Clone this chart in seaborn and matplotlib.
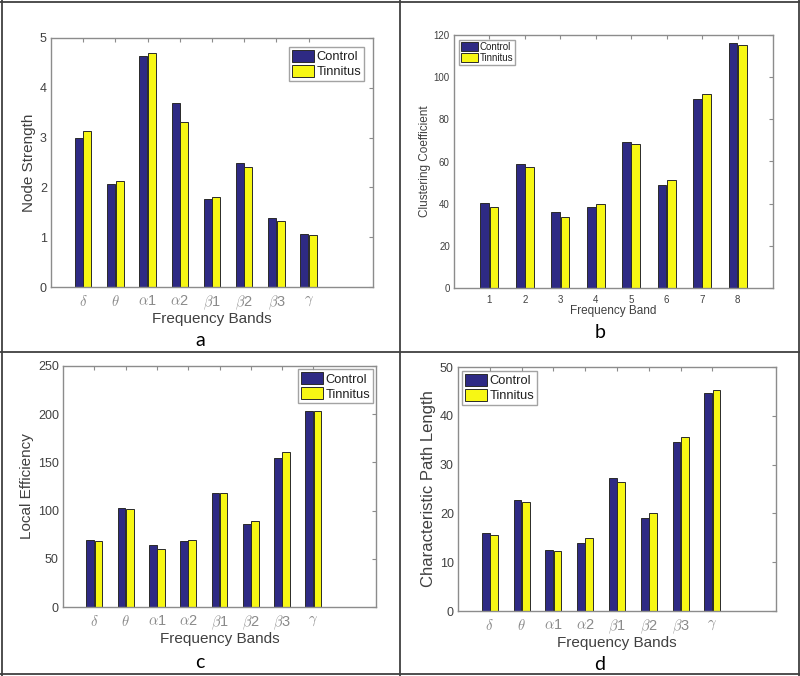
import matplotlib
matplotlib.use("Agg")
import matplotlib.pyplot as plt
import seaborn as sns
import pandas as pd
from matplotlib.lines import Line2D

# ---------------- data ----------------
bands_greek = [r"$\delta$", r"$\theta$", r"$\alpha$1", r"$\alpha$2",
               r"$\beta$1", r"$\beta$2", r"$\beta$3", r"$\gamma$"]
bands_num = ["1", "2", "3", "4", "5", "6", "7", "8"]
groups = ["Control", "Tinnitus"]

node_control = [3.00, 2.07, 4.64, 3.69, 1.77, 2.50, 1.38, 1.07]
node_tinnitus = [3.14, 2.12, 4.70, 3.32, 1.81, 2.40, 1.33, 1.05]

clust_control = [40.4, 58.9, 36.0, 38.4, 69.2, 48.8, 89.5, 116.4]
clust_tinnitus = [38.4, 57.6, 33.8, 39.8, 68.4, 51.2, 91.9, 115.4]

leff_control = [70.0, 103.1, 64.8, 68.3, 117.9, 85.9, 154.8, 203.0]
leff_tinnitus = [68.6, 101.7, 59.7, 70.0, 117.9, 89.7, 160.7, 203.0]

cpl_control = [16.0, 22.8, 12.5, 14.0, 27.3, 19.0, 34.7, 44.7]
cpl_tinnitus = [15.5, 22.4, 12.2, 14.9, 26.4, 20.0, 35.75, 45.3]

panel_letters = ["a", "b", "c", "d"]

# ---------------- style ----------------
sns.set_theme(style="white")
plt.rcParams["font.family"] = ["Liberation Sans", "DejaVu Sans"]
plt.rcParams["mathtext.fontset"] = "cm"

NAVY = "#2E2A84"
YELLOW = "#F7F714"
palette = {"Control": NAVY, "Tinnitus": YELLOW}
SPINE = "#8C8C8C"
TXT = "#404040"

W, H = 800, 676
fig = plt.figure(figsize=(W / 100, H / 100), dpi=100)


def ax_at(l, r, t, b):
    return fig.add_axes([l / W, 1 - b / H, (r - l) / W, (b - t) / H])


def make_df(keys, c, t):
    return pd.DataFrame({
        "band": keys * 2,
        "group": ["Control"] * len(keys) + ["Tinnitus"] * len(keys),
        "value": list(c) + list(t),
    })


def panel(ax, keys, labels, c, t, ylim, yticks, ylabel, xlabel,
          tickfs, labfs, ylabfs, legloc, legfs, greek=True, ylpad=1,
          xpad=6, legpad=0.6):
    df = make_df(keys, c, t)
    sns.barplot(data=df, x="band", y="value", hue="group", order=keys,
                hue_order=groups, palette=palette, width=0.52, gap=0.05,
                edgecolor="#2a2a2a", linewidth=0.7, errorbar=None, ax=ax,
                saturation=1)
    ax.set_xlim(-1, len(keys) + (1 if greek else 0))
    ax.set_ylim(*ylim)
    ax.set_yticks(yticks)
    ax.set_yticklabels([str(v) for v in yticks], fontsize=tickfs, color=TXT)
    ax.set_xticks(range(len(keys)))
    if greek:
        ax.set_xticklabels(labels, fontsize=tickfs + 1.5, color="#8a8a8a")
    else:
        ax.set_xticklabels(labels, fontsize=tickfs, color=TXT)
    ax.set_xlabel(xlabel, fontsize=labfs, color=TXT, labelpad=0)
    ax.set_ylabel(ylabel, fontsize=ylabfs, color=TXT, labelpad=ylpad)
    for s in ax.spines.values():
        s.set_visible(True)
        s.set_color(SPINE)
        s.set_linewidth(1.0)
    ax.tick_params(direction="in", top=True, right=True, length=3,
                   width=0.8, color=SPINE)
    ax.tick_params(axis="y", pad=3)
    ax.tick_params(axis="x", pad=xpad)
    leg = ax.legend(loc=legloc, fontsize=legfs, frameon=True, fancybox=False,
                    edgecolor=SPINE, borderpad=0.22, labelspacing=0.1,
                    handlelength=1.75, handleheight=1.1, handletextpad=0.15,
                    borderaxespad=legpad)
    leg.get_frame().set_linewidth(1.0)
    for txt in leg.get_texts():
        txt.set_color("#202020")


# panel a
ax_a = ax_at(51, 373, 38, 287)
panel(ax_a, bands_greek, bands_greek, node_control, node_tinnitus,
      (0, 5), [0, 1, 2, 3, 4, 5], "Node Strength", "Frequency Bands",
      9, 11, 11, "upper right", 9.3, ylpad=3, xpad=5, legpad=0.7)

# panel b
ax_b = ax_at(454, 773, 35, 288)
panel(ax_b, bands_num, bands_num, clust_control, clust_tinnitus,
      (0, 120), [0, 20, 40, 60, 80, 100, 120], "Clustering Coefficient",
      "Frequency Band", 7, 8.5, 8.5, "upper left", 7, greek=False, ylpad=2,
      xpad=5, legpad=0.5)

# panel c
ax_c = ax_at(63, 376, 366, 607)
panel(ax_c, bands_greek, bands_greek, leff_control, leff_tinnitus,
      (0, 250), [0, 50, 100, 150, 200, 250], "Local Efficiency",
      "Frequency Bands", 9, 11, 11, "upper right", 9.3, ylpad=3, xpad=5,
      legpad=0.25)

# panel d
ax_d = ax_at(458, 776, 367, 611)
panel(ax_d, bands_greek, bands_greek, cpl_control, cpl_tinnitus,
      (0, 50), [0, 10, 20, 30, 40, 50], "Characteristic Path Length",
      "Frequency Bands", 9, 11, 12, "upper left", 9.3, ylpad=3, xpad=5,
      legpad=0.3)

# panel letters
for letter, (x, y) in zip(panel_letters, [(200, 340), (600, 333), (200, 662), (600, 664)]):
    fig.text(x / W, 1 - y / H, letter, ha="center", va="center",
             fontsize=14, color="black", family=["Lato", "DejaVu Sans"])

# grid borders
BORDER = "#404040"
lines = [
    ((1.5, 1.5), (0, H)), ((W - 1.5, W - 1.5), (0, H)),
    ((0, W), (1.5, 1.5)), ((0, W), (H - 2, H - 2)),
    ((400, 400), (0, H)), ((0, W), (352, 352)),
]
for xs, ys in lines:
    fig.add_artist(Line2D([x / W for x in xs], [1 - y / H for y in ys],
                          color=BORDER, linewidth=1.3,
                          transform=fig.transFigure))

fig.savefig("out.png", dpi=100, facecolor="white")
